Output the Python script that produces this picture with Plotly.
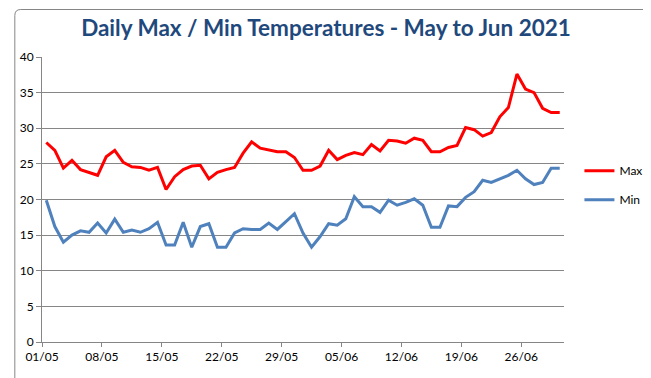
import pandas as pd
import plotly.graph_objects as go

dates = pd.date_range("2021-05-01", periods=61, freq="D") + pd.Timedelta(hours=12)

max_temp = [28.0, 26.9, 24.4, 25.5, 24.2, 23.8, 23.4, 26.0, 26.9, 25.2,
            24.6, 24.5, 24.1, 24.5, 21.4, 23.2, 24.2, 24.7, 24.8, 22.9,
            23.8, 24.2, 24.5, 26.5, 28.1, 27.2, 27.0, 26.7, 26.7, 25.9,
            24.1, 24.1, 24.7, 26.9, 25.6, 26.2, 26.6, 26.3, 27.7, 26.8,
            28.3, 28.2, 27.9, 28.6, 28.3, 26.7, 26.7, 27.3, 27.6, 30.1,
            29.8, 28.9, 29.4, 31.6, 32.9, 37.6, 35.5, 35.0, 32.8, 32.2, 32.2]

min_temp = [19.9, 16.2, 14.0, 15.0, 15.6, 15.4, 16.7, 15.3, 17.25, 15.4,
            15.7, 15.4, 15.9, 16.8, 13.6, 13.6, 16.8, 13.3, 16.2, 16.6,
            13.3, 13.3, 15.3, 15.9, 15.8, 15.8, 16.7, 15.8, 16.9, 18.0,
            15.3, 13.3, 14.8, 16.6, 16.4, 17.3, 20.4, 19.0, 19.0, 18.2,
            19.9, 19.2, 19.6, 20.1, 19.2, 16.1, 16.1, 19.1, 19.0, 20.3,
            21.1, 22.7, 22.4, 22.9, 23.4, 24.1, 22.9, 22.1, 22.4, 24.4, 24.4]

tick_dates = pd.date_range("2021-05-01", "2021-06-26", freq="7D")
tick_labels = [d.strftime("%d/%m") for d in tick_dates]
y_ticks = [0, 5, 10, 15, 20, 25, 30, 35, 40]

W, H = 651, 378
L, R, T, B = 29, 94, 49, 44
pw, ph = W - L - R, H - T - B

fig = go.Figure()
fig.add_trace(go.Scatter(x=dates, y=max_temp, mode="lines", name="Max", legendgroup="max",
                         line=dict(color="#FF0000", width=3)))
fig.add_trace(go.Scatter(x=dates, y=min_temp, mode="lines", name="Min", legendgroup="min",
                         line=dict(color="#4F81BD", width=3)))

grid = "#868686"
fig.update_layout(
    width=W, height=H,
    margin=dict(l=L, r=R, t=T, b=B),
    paper_bgcolor="white", plot_bgcolor="white",
    font=dict(family="Lato, Open Sans, sans-serif", size=12, color="black"),
    title=dict(text="Daily Max / Min Temperatures - May to Jun 2021",
               x=318 / W, xanchor="center", xref="container",
               y=1 - 20 / H, yref="container", yanchor="middle",
               font=dict(family="Lato, sans-serif", size=22.5, color="#1F497D", weight="bold")),
    xaxis=dict(range=["2021-05-01", "2021-07-01"], tickvals=list(tick_dates), ticktext=tick_labels,
               showgrid=False, showline=True, linecolor=grid, linewidth=1,
               ticks="outside", ticklen=4, tickcolor=grid, zeroline=False,
               tickfont=dict(size=12)),
    yaxis=dict(range=[0, 40], tickvals=y_ticks, showgrid=True, gridcolor=grid, gridwidth=1,
               showline=True, linecolor=grid, linewidth=1, ticks="outside", ticklen=5,
               tickcolor=grid, zeroline=False, tickfont=dict(size=12)),
    legend=dict(x=(572.6 - L) / pw, xanchor="left", y=0.55, yanchor="middle",
                font=dict(size=12), tracegroupgap=10, traceorder="grouped", itemwidth=30,
                bgcolor="rgba(0,0,0,0)"),
    showlegend=True,
)

# rounded outer chart border (pixel -> paper conversion)
def px(x):
    return (x - L) / pw

def py(y):
    return (T + ph - y) / ph

x0, x1, y0, y1, r = 1.5, W - 1.5, 1.5, H - 1.5, 6
path = (f"M {px(x0 + r)},{py(y0)} L {px(x1 - r)},{py(y0)} "
        f"Q {px(x1)},{py(y0)} {px(x1)},{py(y0 + r)} L {px(x1)},{py(y1 - r)} "
        f"Q {px(x1)},{py(y1)} {px(x1 - r)},{py(y1)} L {px(x0 + r)},{py(y1)} "
        f"Q {px(x0)},{py(y1)} {px(x0)},{py(y1 - r)} L {px(x0)},{py(y0 + r)} "
        f"Q {px(x0)},{py(y0)} {px(x0 + r)},{py(y0)} Z")
fig.add_shape(type="path", xref="paper", yref="paper", path=path,
              line=dict(color=grid, width=1), fillcolor="rgba(0,0,0,0)", layer="below")

fig.write_html("out.html")
